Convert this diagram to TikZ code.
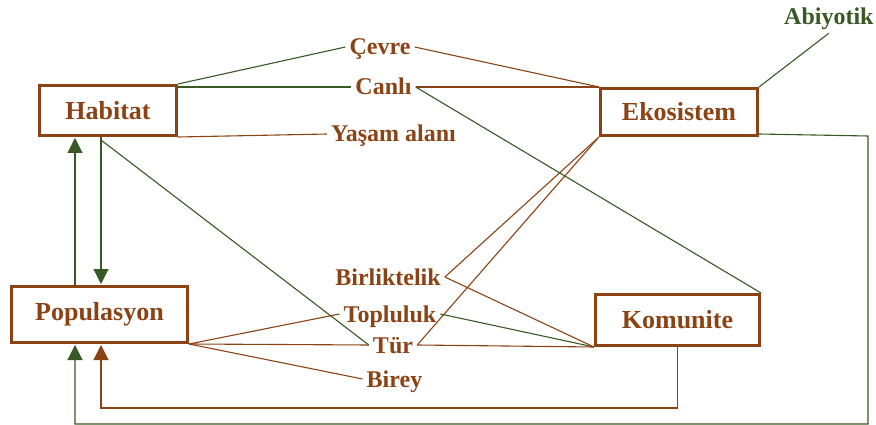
\documentclass[tikz,border=0pt]{standalone}
\usepackage{fontspec}
\setmainfont{Liberation Serif}
\usetikzlibrary{arrows.meta}
\definecolor{brn}{RGB}{139,66,20}
\definecolor{grn}{RGB}{56,88,36}
\tikzset{
  box/.style={draw=brn, line width=3pt, text=brn, inner sep=0pt,
    font=\fontsize{26}{30}\selectfont\bfseries},
  lbl/.style={text=brn, anchor=base, inner xsep=4pt, inner ysep=0pt,
    text height=16pt, text depth=0pt, font=\fontsize{24}{28}\selectfont\bfseries},
  gl/.style={draw=grn, line width=1.1pt},
  bl/.style={draw=brn, line width=1.1pt},
  tip/.style={-{Triangle[length=15pt,width=15pt]}}
}
\begin{document}
\begin{tikzpicture}[x=1pt,y=-1pt]
\useasboundingbox (0,0) rectangle (876,425);
% boxes
\node[box, minimum width=137pt, minimum height=50pt] (hab) at (108,110.5) {Habitat};
\node[box, minimum width=157pt, minimum height=47pt] (eko) at (679,112) {Ekosistem};
\node[box, minimum width=176pt, minimum height=56pt] (pop) at (99.5,314.5) {Populasyon};
\node[box, minimum width=164pt, minimum height=51pt] (kom) at (677.5,320) {Komunite};
% labels
\node[lbl] (cevre) at (380,55) {Çevre};
\node[lbl] (canli) at (383.5,95) {Canlı};
\node[lbl] (yasam) at (393.5,142) {Yaşam alanı};
\node[lbl, text=grn, anchor=base west, inner xsep=0pt] (abiy) at (784,25) {Abiyotik};
\node[lbl] (birlik) at (388,285) {Birliktelik};
\node[lbl] (topl) at (390,322) {Topluluk};
\node[lbl] (tur) at (393,353) {Tür};
\node[lbl] (birey) at (394.5,387) {Birey};
% helper coordinates
\coordinate (xa) at (75,0);
\coordinate (xb) at (101,0);
\coordinate (xr) at (868,0);
\coordinate (yg) at (0,424);
\coordinate (yb) at (0,408);
% Habitat connections
\draw[gl] (hab.north east) -- (cevre.west);
\draw[gl] ([yshift=-3pt]hab.north east) -- (canli.west);
\draw[bl] (hab.south east) -- (yasam.west);
% Ekosistem connections
\draw[bl] (cevre.east) -- (eko.north west);
\draw[bl] (canli.east) -- (eko.north west);
\draw[gl] (canli.east) -- (kom.north east);
\draw[gl] ([yshift=-8pt]abiy.south) -- (eko.north east);
\draw[bl] (eko.south west) -- (birlik.east);
\draw[bl] ([xshift=-1pt,yshift=-1pt]eko.south west) -- (tur.east);
\draw[gl, tip] ([yshift=3pt]eko.south east) -- ([yshift=1pt]xr |- eko.south east) -- (xr |- yg) -- (xa |- yg) -- ([yshift=-1pt]xa |- pop.south);
% Komunite back to Populasyon
\draw[bl, tip] (kom.south) -- (kom.south |- yb) -| ([yshift=-1pt]xb |- pop.south);
% Habitat <-> Populasyon
\draw[gl, tip] (xa |- pop.north) -- ([yshift=-1pt]xa |- hab.south);
\draw[gl, tip] (xb |- hab.south) -- ([yshift=1pt]xb |- pop.north);
\draw[gl] ([yshift=-3pt]xb |- hab.south) -- (tur.west);
% Populasyon connections
\draw[bl] (pop.south east) -- (topl.west);
\draw[bl] (pop.south east) -- (tur.west);
\draw[bl] (pop.south east) -- (birey.west);
% Komunite connections
\draw[gl] (topl.east) -- (kom.south west);
\draw[bl] (birlik.east) -- (kom.south west);
\draw[bl] (tur.east) -- (kom.south west);
\end{tikzpicture}
\end{document}
